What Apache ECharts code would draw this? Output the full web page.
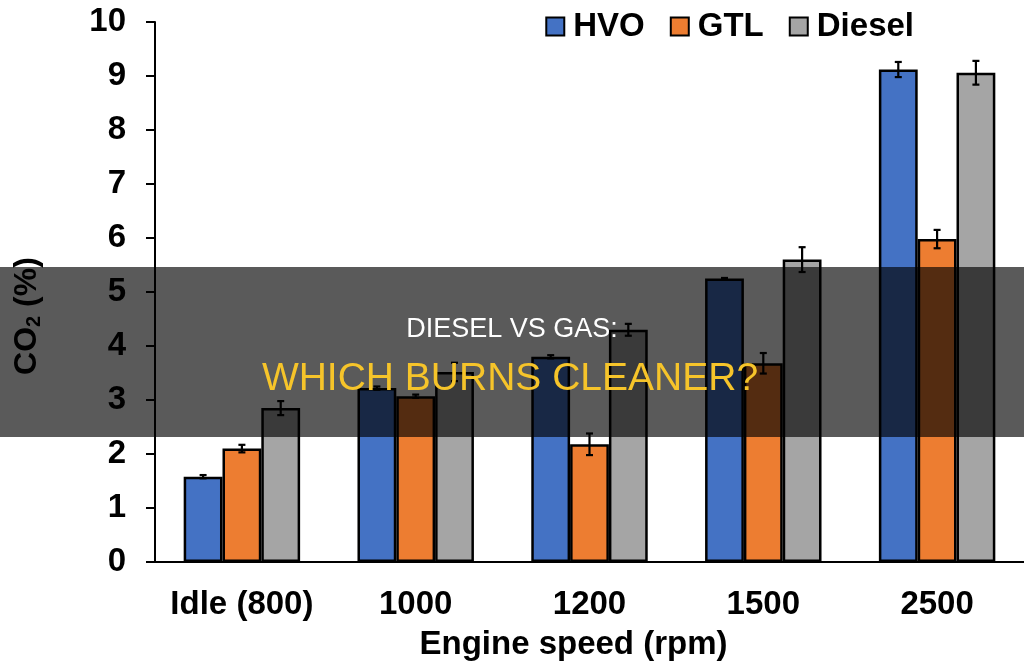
<!DOCTYPE html>
<html lang="en">

<head>
    <meta charset="UTF-8">
    <title>Diesel vs Gas: Which Burns Cleaner?</title>
    <script src="https://cdn.jsdelivr.net/npm/echarts@6/dist/echarts.min.js"></script>
    <style>
        body {
            margin: 0;
        }

        #root {
            width: 1024px;
            height: 666px;
        }
    </style>
</head>

<body>

    <div id="root"></div>
    <script>

        // engine speeds on the x axis
        var categories = ['Idle (800)', '1000', '1200', '1500', '2500'];

        // CO2 (%) per fuel
        var hvo = [1.58, 3.22, 3.80, 5.25, 9.12];
        var gtl = [2.10, 3.07, 2.18, 3.68, 5.98];
        var diesel = [2.85, 3.52, 4.30, 5.60, 9.06];

        // error bar half widths
        var hvoErr = [0.03, 0.03, 0.03, 0.01, 0.14];
        var gtlErr = [0.07, 0.03, 0.20, 0.19, 0.17];
        var dieselErr = [0.13, 0.17, 0.11, 0.23, 0.22];

        var yTicks = [0, 1, 2, 3, 4, 5, 6, 7, 8, 9, 10];

        var fuels = [
            { name: 'HVO', values: hvo, err: hvoErr, color: '#4472C4' },
            { name: 'GTL', values: gtl, err: gtlErr, color: '#ED7D31' },
            { name: 'Diesel', values: diesel, err: dieselErr, color: '#A5A5A5' }
        ];

        var font = 'Liberation Sans, Arial, sans-serif';

        var mychart = echarts.init(document.getElementById('root'));

        var series = [];

        fuels.forEach(function (f) {
            series.push({
                name: f.name,
                type: 'bar',
                data: f.values,
                barGap: '0%',
                barCategoryGap: '33%',
                itemStyle: {
                    color: f.color,
                    borderColor: '#000',
                    borderWidth: 2.5
                }
            });
        });

        // error bars, one custom series per fuel
        fuels.forEach(function (f, idx) {
            var data = f.values.map(function (v, i) {
                return [i, v - f.err[i], v + f.err[i]];
            });
            series.push({
                type: 'custom',
                z: 5,
                data: data,
                encode: { x: 0, y: [1, 2] },
                renderItem: function (params, api) {
                    var band = api.size([1, 0])[0];
                    var dx = (idx - 1) * (0.67 / 3) * band;
                    var lo = api.coord([api.value(0), api.value(1)]);
                    var hi = api.coord([api.value(0), api.value(2)]);
                    var x = lo[0] + dx;
                    var cap = 3.5;
                    var style = { stroke: '#000', lineWidth: 2.2 };
                    return {
                        type: 'group',
                        children: [
                            { type: 'line', shape: { x1: x, y1: lo[1], x2: x, y2: hi[1] }, style: style },
                            { type: 'line', shape: { x1: x - cap, y1: lo[1], x2: x + cap, y2: lo[1] }, style: style },
                            { type: 'line', shape: { x1: x - cap, y1: hi[1], x2: x + cap, y2: hi[1] }, style: style }
                        ]
                    };
                }
            });
        });

        mychart.setOption({
            animation: false,
            backgroundColor: '#fff',
            grid: {
                left: 155,
                right: 0,
                top: 22,
                bottom: 104
            },
            legend: {
                data: ['HVO', 'GTL', 'Diesel'],
                right: 105,
                top: 5,
                itemWidth: 18,
                itemHeight: 18,
                itemGap: 25,
                icon: 'rect',
                itemStyle: {
                    borderColor: '#000',
                    borderWidth: 2
                },
                textStyle: {
                    fontFamily: font,
                    fontWeight: 'bold',
                    fontSize: 33,
                    color: '#000',
                    padding: [0, 0, 0, 4]
                }
            },
            xAxis: {
                type: 'category',
                data: categories,
                axisTick: { show: false },
                axisLine: { lineStyle: { color: '#000', width: 2 } },
                axisLabel: {
                    interval: 0,
                    hideOverlap: false,
                    margin: 26,
                    fontFamily: font,
                    fontWeight: 'bold',
                    fontSize: 33,
                    color: '#000'
                },
                name: 'Engine speed (rpm)',
                nameLocation: 'middle',
                nameGap: 66,
                nameTextStyle: {
                    fontFamily: font,
                    fontWeight: 'bold',
                    fontSize: 33,
                    color: '#000',
                    padding: [0, 32, 0, 0]
                }
            },
            yAxis: {
                type: 'value',
                min: yTicks[0],
                max: yTicks[yTicks.length - 1],
                interval: 1,
                splitLine: { show: false },
                axisLine: { show: true, lineStyle: { color: '#000', width: 2 } },
                axisTick: { show: true, length: 9, lineStyle: { color: '#000', width: 2 } },
                axisLabel: {
                    margin: 29,
                    fontFamily: font,
                    fontWeight: 'bold',
                    fontSize: 33,
                    color: '#000'
                },
                name: '{a|CO}{s|2}{a| (%)}',
                nameLocation: 'middle',
                nameGap: 111,
                nameTextStyle: {
                    padding: [0, 0, 0, -48],
                    rich: {
                        a: { fontFamily: font, fontWeight: 'bold', fontSize: 32, color: '#000' },
                        s: { fontFamily: font, fontWeight: 'bold', fontSize: 20, color: '#000', verticalAlign: 'bottom', padding: [14, 0, 0, 0] }
                    }
                }
            },
            series: series,
            graphic: [
                {
                    type: 'rect',
                    z: 100,
                    shape: { x: 0, y: 267, width: 1024, height: 170 },
                    style: { fill: 'rgba(0,0,0,0.647)' }
                },
                {
                    type: 'text',
                    z: 101,
                    x: 512,
                    y: 330,
                    style: {
                        text: 'DIESEL VS GAS:',
                        fill: '#fff',
                        font: '27px Liberation Sans, Arial, sans-serif',
                        textAlign: 'center',
                        textVerticalAlign: 'middle'
                    }
                },
                {
                    type: 'text',
                    z: 101,
                    x: 510,
                    y: 379,
                    style: {
                        text: 'WHICH BURNS CLEANER?',
                        fill: '#F6C42A',
                        font: '39px Liberation Sans, Arial, sans-serif',
                        textAlign: 'center',
                        textVerticalAlign: 'middle'
                    }
                }
            ]
        });

    </script>

</body>

</html>
